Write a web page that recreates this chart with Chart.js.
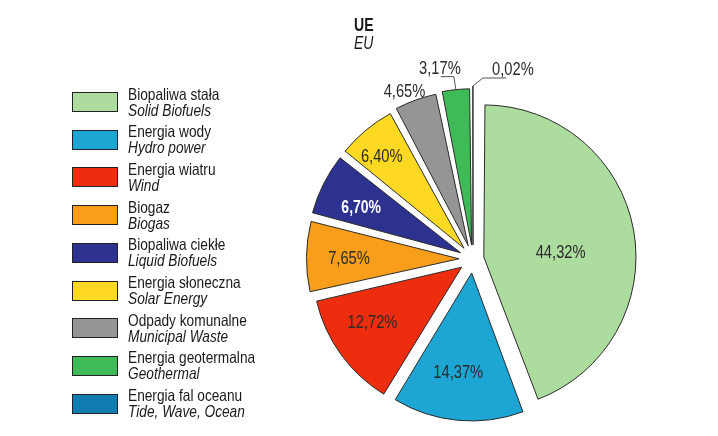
<!DOCTYPE html>
<html>
<head>
<meta charset="utf-8">
<script src="https://cdn.jsdelivr.net/npm/chart.js@4/dist/chart.umd.min.js"></script>
<style>
html,body{margin:0;padding:0;background:#fff;}
#wrap{width:718px;height:436px;position:relative;}
canvas{display:block;}
</style>
</head>
<body>
<div id="wrap"><canvas id="c" width="718" height="436"></canvas></div>
<script>
// ---- data ----
const titlePl = 'UE';
const titleEn = 'EU';
const categoriesPl = ['Biopaliwa stała','Energia wody','Energia wiatru','Biogaz','Biopaliwa ciekłe','Energia słoneczna','Odpady komunalne','Energia geotermalna','Energia fal oceanu'];
const categoriesEn = ['Solid Biofuels','Hydro power','Wind','Biogas','Liquid Biofuels','Solar Energy','Municipal Waste','Geothermal','Tide, Wave, Ocean'];
const shares = [44.32, 14.37, 12.72, 7.65, 6.70, 6.40, 4.65, 3.17, 0.02];

// ---- styles ----
const FONT = '"Liberation Sans",Arial,sans-serif';
const NARROW = 0.83; // horizontal squeeze to mimic a condensed face
const sliceColors = ['#ADDC9F','#1DA5D3','#EE2D0E','#F99E1B','#2D3290','#FDD923','#959595','#3EBA56','#0F7DB1'];
const sliceOffsets = [44,56,56,56,56,56,56,56,56]; // Chart.js translates by offset/4
// label placement: inside at distance d from slice apex (+ small nudges), or outside with leader
const labelPlace = [
  {d:76, dx:2, dy:10},
  {d:100, dx:-4, dy:1},
  {d:105, dx:-4, dy:-5},
  {d:111, dx:1, dy:2},
  {d:110, dx:-1, dy:5, bold:true, color:'#ffffff'},
  {d:124, dx:-3, dy:4},
  {d:167, dx:-7, dy:3},
  {leader:true, ex:-2, ey:-13, hx:-13, tx:-14},
  {leader:true, ex:10, ey:-8, hx:23, tx:30}
];
const fmt = v => v.toFixed(2).replace('.', ',') + '%';

function drawText(ctx, s, x, y, align, baseline, font, color, sx) {
  ctx.save();
  ctx.font = font;
  ctx.fillStyle = color;
  ctx.textAlign = align;
  ctx.textBaseline = baseline;
  ctx.translate(x, y);
  ctx.scale(sx, 1);
  ctx.fillText(s, 0, 0);
  ctx.restore();
}

const overlay = {
  id: 'overlay',
  afterDatasetsDraw(chart) {
    const ctx = chart.ctx;
    const meta = chart.getDatasetMeta(0);
    ctx.save();
    meta.data.forEach((arc, i) => {
      const p = arc.getProps(['x','y','startAngle','endAngle','outerRadius','circumference'], true);
      const off = (arc.options.offset || 0) / 4;
      const mid = (p.startAngle + p.endAngle) / 2;
      const cx = p.x + Math.cos(mid) * off, cy = p.y + Math.sin(mid) * off;
      const fix = 1 - Math.sin(Math.min(Math.PI, p.circumference));
      const r = p.outerRadius + off * fix;
      const lp = labelPlace[i];
      const txt = fmt(shares[i]);
      if (!lp.leader) {
        drawText(ctx, txt,
          cx + Math.cos(mid) * lp.d + lp.dx, cy + Math.sin(mid) * lp.d + lp.dy,
          'center', 'middle', (lp.bold ? 'bold ' : '') + '17.5px ' + FONT,
          lp.color || '#2a2a2a', lp.bold ? 0.8 : 0.84);
      } else {
        const ax = cx + Math.cos(mid) * r, ay = cy + Math.sin(mid) * r;
        const exx = ax + lp.ex, eyy = ay + lp.ey;
        ctx.strokeStyle = '#555';
        ctx.lineWidth = 1;
        ctx.beginPath();
        ctx.moveTo(ax, ay);
        ctx.lineTo(exx, eyy);
        ctx.lineTo(exx + lp.hx, eyy);
        ctx.stroke();
        drawText(ctx, txt, exx + lp.tx, eyy - 3, 'center', 'alphabetic', '17.5px ' + FONT, '#2a2a2a', 0.84);
      }
    });
    ctx.restore();
  },
  afterDraw(chart) {
    const ctx = chart.ctx;
    // title
    drawText(ctx, titlePl, 354, 31, 'left', 'alphabetic', 'bold 18.5px ' + FONT, '#1a1a1a', 0.76);
    drawText(ctx, titleEn, 354, 49, 'left', 'alphabetic', 'italic 17.5px ' + FONT, '#1a1a1a', 0.8);
    // legend
    categoriesPl.forEach((name, i) => {
      const top = 92 + i * 37.7;
      ctx.save();
      ctx.fillStyle = sliceColors[i];
      ctx.fillRect(72, Math.round(top), 46, 20);
      ctx.strokeStyle = '#222';
      ctx.lineWidth = 1;
      ctx.strokeRect(72.5, Math.round(top) + 0.5, 45, 19);
      ctx.restore();
      drawText(ctx, name, 128, top + 7.5, 'left', 'alphabetic', '16.5px ' + FONT, '#1a1a1a', NARROW);
      drawText(ctx, categoriesEn[i], 128, top + 23.5, 'left', 'alphabetic', 'italic 16.5px ' + FONT, '#1a1a1a', NARROW);
    });
  }
};

new Chart(document.getElementById('c'), {
  type: 'pie',
  data: {
    labels: categoriesPl,
    datasets: [{
      data: shares,
      backgroundColor: sliceColors,
      borderColor: '#2b2b2b',
      borderWidth: 1,
      offset: sliceOffsets,
      radius: 145
    }]
  },
  options: {
    responsive: false,
    devicePixelRatio: 1,
    animation: false,
    events: [],
    layout: { padding: { left: 313, right: 85, top: 99, bottom: 17 } },
    plugins: { legend: { display: false }, tooltip: { enabled: false }, title: { display: false } }
  },
  plugins: [overlay]
});
</script>
</body>
</html>
